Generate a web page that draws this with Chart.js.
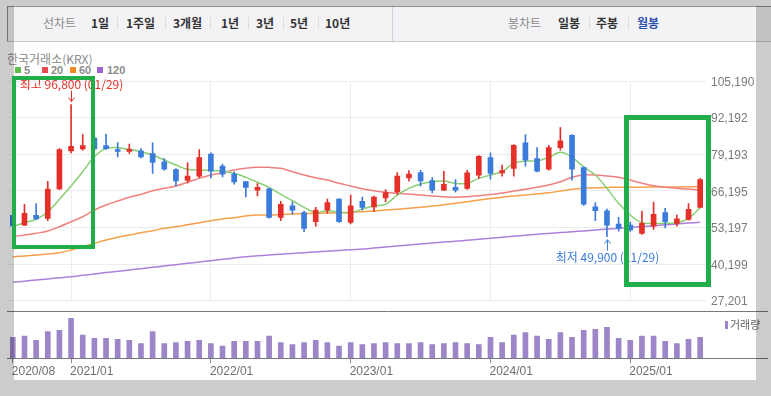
<!DOCTYPE html>
<html>
<head>
<meta charset="utf-8">
<script src="https://cdn.jsdelivr.net/npm/chart.js@4.4.1/dist/chart.umd.min.js"></script>
<style>
html,body{margin:0;padding:0;background:#fff;width:771px;height:396px;overflow:hidden;font-family:'Noto Sans CJK KR','Liberation Sans',sans-serif;}
#wrap{position:relative;width:771px;height:396px;overflow:hidden;}
canvas{position:absolute;left:0;top:0;}
.abs{position:absolute;}
.t{position:absolute;top:15px;height:16px;line-height:16px;font-size:12px;font-weight:bold;color:#333;white-space:nowrap;}
.g{color:#8a8a8a;font-weight:normal;}
.sep{position:absolute;top:17px;width:1px;height:12px;background:#dcdcde;}
.lg{position:absolute;top:64px;height:12px;line-height:12px;font-size:11px;font-weight:bold;color:#8c8c8c;font-family:'Liberation Sans',sans-serif;}
.sq{position:absolute;top:67px;width:6px;height:6px;}
.ov{position:absolute;background:rgba(0,0,0,0.2);}
.box{position:absolute;border-style:solid;border-color:#22ad4b;box-sizing:border-box;}
</style>
</head>
<body>
<div id="wrap">
  <div class="abs" style="left:7px;top:6px;width:780px;height:34px;background:#f3f3f6;border-top:1px solid #8f8f8f;border-left:1px solid #8f8f8f;border-bottom:1px solid #c9c9cc;"></div>
  <div class="abs" style="left:392px;top:7px;width:1px;height:34px;background:#cfcfd3;"></div>
  <span class="t g" style="left:43px">선차트</span>
  <span class="t" style="left:91px">1일</span>
  <div class="sep" style="left:117px"></div>
  <span class="t" style="left:126px">1주일</span>
  <div class="sep" style="left:165px"></div>
  <span class="t" style="left:173px">3개월</span>
  <div class="sep" style="left:210px"></div>
  <span class="t" style="left:221px">1년</span>
  <div class="sep" style="left:248px"></div>
  <span class="t" style="left:256px">3년</span>
  <div class="sep" style="left:283px"></div>
  <span class="t" style="left:290px">5년</span>
  <div class="sep" style="left:318px"></div>
  <span class="t" style="left:325px">10년</span>
  <span class="t g" style="left:508px">봉차트</span>
  <span class="t" style="left:558px">일봉</span>
  <div class="sep" style="left:589px"></div>
  <span class="t" style="left:596px">주봉</span>
  <div class="sep" style="left:628px"></div>
  <span class="t" style="left:637px;color:#2f52b0">월봉</span>

  <div class="abs" style="left:7px;top:52px;height:14px;line-height:14px;font-size:12px;color:#8a8a8a;white-space:nowrap;">한국거래소(KRX)</div>
  <div class="sq" style="left:15px;background:#5cbf48"></div><span class="lg" style="left:24px">5</span>
  <div class="sq" style="left:42px;background:#e84c4c"></div><span class="lg" style="left:51px">20</span>
  <div class="sq" style="left:70px;background:#f28a22"></div><span class="lg" style="left:79px">60</span>
  <div class="sq" style="left:97px;background:#a064d2"></div><span class="lg" style="left:107px">120</span>

  <canvas id="price" width="771" height="396" style="width:771px;height:396px"></canvas>
  <canvas id="vol" width="771" height="396" style="width:771px;height:396px"></canvas>

  <div class="ov" style="left:0;top:0;width:771px;height:6px"></div>
  <div class="ov" style="left:0;top:6px;width:14px;height:390px"></div>
  <div class="ov" style="left:756px;top:6px;width:15px;height:390px"></div>
  <div class="ov" style="left:14px;top:380px;width:742px;height:16px"></div>

  <div class="box" style="left:12px;top:76px;width:83px;height:173px;border-width:4px"></div>
  <div class="box" style="left:624px;top:115px;width:87px;height:172px;border-width:5px"></div>
</div>
<script>
// ---- categories (monthly) ----
const months = [];
for (let y = 2020, m = 8; months.length < 60; m++) {
  if (m > 12) { m = 1; y++; }
  months.push(y + '/' + String(m).padStart(2, '0'));
}
const xTickLabels = ['2020/08', '2021/01', '2022/01', '2023/01', '2024/01', '2025/01'];
const priceTicks = [27201, 40199, 53197, 66195, 79193, 92192, 105190];

// ---- OHLC ----
const open = [57500,54000,57450,56400,66900,80350,81050,84950,82250,80850,
  80150,80350,79450,76450,73750,69850,71400,79200,74950,72100,
  69500,66400,66900,56750,60850,58500,55200,59350,63250,55000,
  62500,60500,63700,65800,70800,72700,69850,66400,67400,67050,
  71750,78000,72550,74100,83200,77650,73850,81550,85900,74450,
  60500,59100,54400,54000,51100,53650,58500,54600,56050,60300];
const high = [58500,61350,61700,69600,81200,96800,86150,85500,86250,83350,
  82750,81200,83200,77650,74100,76100,80850,79650,75650,72900,
  69600,68800,67100,62500,62150,59000,60300,63250,63400,64650,
  63950,64300,66650,72700,73400,73500,70900,73150,70200,73500,
  78700,79650,75300,82600,86150,81550,82350,88650,86200,74700,
  62050,59700,56750,55100,59000,62150,59950,57550,61700,70500];
const low = [53000,53850,56050,55550,66600,79650,80600,80600,80900,78250,
  79450,77850,72350,73500,67950,69000,70900,70800,71150,68550,
  64050,64400,56500,55550,57900,51650,53650,58150,55000,54400,
  59350,58750,62300,64900,69600,67850,65450,66200,65700,66650,
  70550,70300,71400,71400,74950,72900,73500,80600,69950,61000,
  55550,49900,51900,51800,50700,52500,53050,53650,55800,60100];
const close = [53700,58150,56250,66800,80850,82000,82250,81050,81200,80150,
  80950,78250,76250,73850,69700,71400,78000,73150,72100,69350,
  67400,67400,56750,61350,59350,52850,59350,62050,55200,60850,
  60300,63950,65600,71400,72100,69700,66400,68450,66400,72550,
  78450,72350,73400,82350,77050,73150,81550,83900,73850,61450,
  59100,54000,52850,52300,54600,57800,55200,56250,59600,70200];

// ---- moving averages ----
const ma5 = [53510,54860,56070,58770,63170,67890,72970,78290,81270,81490,
  80920,80070,78890,77120,75340,73820,73570,73460,73210,72400,
  70980,69240,67430,64940,62670,60330,58410,59120,58550,58410,
  59720,60790,61390,64690,67070,68600,69420,69660,68850,68850,
  70620,71790,72970,75950,76760,76760,78080,79850,78080,74740,
  71790,67070,61750,57590,54860,54650,54650,54860,56420,60190];
const ma20 = [49890,50490,51100,51910,53440,55220,56990,59370,61140,62560,
  63880,64940,66220,67070,67890,69200,70620,71790,72610,73570,
  74170,74530,74530,74170,72970,71790,70840,70020,68850,67890,
  66930,66220,65650,65300,65050,64690,64340,64090,63880,64090,
  64450,64870,65400,66110,66720,67430,68240,69420,70980,71790,
  71790,71440,70980,70020,68850,68000,67430,67070,66820,66470];
const ma60 = [42790,43040,43390,43750,44210,45170,46340,47550,48720,49680,
  50490,51310,52020,52870,53440,54150,54860,55570,56170,56640,
  57240,57590,57590,57770,57950,58060,58200,58300,58410,58550,
  58770,59010,59370,59650,59970,60360,60790,61250,61750,62320,
  62920,63420,63880,64340,64690,65120,65510,66110,66720,67070,
  67290,67390,67430,67460,67500,67530,67530,67570,67610,67640];
const ma120 = [33700,34090,34520,34910,35300,35690,36190,36650,37150,37610,
  38070,38530,39030,39490,39950,40450,40910,41370,41870,42330,
  42790,43110,43390,43680,43960,44210,44460,44740,44990,45280,
  45520,45880,46230,46590,46940,47300,47650,47970,48290,48650,
  48970,49320,49680,50030,50390,50740,51060,51350,51670,51950,
  52270,52590,52870,53190,53480,53800,54120,54400,54720,55000];

// ---- volume ----
const volume = [420,446,360,532,560,800,466,400,400,380,
  360,292,532,292,312,340,360,292,246,340,
  340,340,446,312,272,312,360,312,246,312,
  272,292,312,292,292,312,272,292,312,292,
  272,420,312,466,512,446,380,512,420,560,
  580,620,400,360,446,446,340,292,380,420];

const hiDate = '01/29', loDate = '11/29';

const RED = '#e5302a', BLUE = '#3b7bdc', VOLC = '#9c85c9';
const tickIdx = xTickLabels.map(l => months.indexOf(l));
const bodies = open.map((o, i) => [o, close[i]]);
const wicks = high.map((h, i) => [low[i], h]);
const candleColor = ctx => close[ctx.dataIndex] >= open[ctx.dataIndex] ? RED : BLUE;
const hiVal = Math.max(...high), hiIdx = high.indexOf(hiVal);
const loVal = Math.min(...low), loIdx = low.indexOf(loVal);

const hiLoPlugin = {
  id: 'hiLo',
  afterDatasetsDraw(chart) {
    const { ctx, scales: { x, y } } = chart;
    ctx.save();
    ctx.lineWidth = 1;
    ctx.font = '12px "Noto Sans CJK KR", sans-serif';
    ctx.textAlign = 'center';
    ctx.textBaseline = 'middle';
    const hx = Math.round(x.getPixelForValue(hiIdx)) + 0.5, hy = y.getPixelForValue(hiVal);
    ctx.strokeStyle = RED; ctx.fillStyle = RED;
    ctx.beginPath();
    ctx.moveTo(hx, hy - 14); ctx.lineTo(hx, hy - 3);
    ctx.moveTo(hx - 3, hy - 7); ctx.lineTo(hx, hy - 3); ctx.lineTo(hx + 3, hy - 7);
    ctx.stroke();
    ctx.fillText('최고 ' + hiVal.toLocaleString('en-US') + ' (' + hiDate + ')', hx, hy - 20);
    const lx = Math.round(x.getPixelForValue(loIdx)) + 0.5, ly = y.getPixelForValue(loVal);
    ctx.strokeStyle = BLUE; ctx.fillStyle = BLUE;
    ctx.beginPath();
    ctx.moveTo(lx, ly + 14); ctx.lineTo(lx, ly + 3);
    ctx.moveTo(lx - 3, ly + 7); ctx.lineTo(lx, ly + 3); ctx.lineTo(lx + 3, ly + 7);
    ctx.stroke();
    ctx.fillText('최저 ' + loVal.toLocaleString('en-US') + ' (' + loDate + ')', lx, ly + 20.5);
    ctx.restore();
  }
};

const maLine = (label, data, color) => ({
  type: 'line', label, data, borderColor: color, borderWidth: 1.5,
  pointRadius: 0, tension: 0.35, fill: false
});

new Chart(document.getElementById('price'), {
  type: 'bar',
  data: {
    labels: months,
    datasets: [
      { label: 'body', data: bodies, backgroundColor: candleColor, barThickness: 5, grouped: false, borderWidth: 0 },
      { label: 'wick', data: wicks, backgroundColor: candleColor, barThickness: 1, grouped: false, borderWidth: 0 },
      maLine('5', ma5, '#86cf72'),
      maLine('20', ma20, '#ef8080'),
      maLine('60', ma60, '#f5a04a'),
      maLine('120', ma120, '#ad80da')
    ]
  },
  options: {
    responsive: false, animation: false, devicePixelRatio: 1,
    layout: { padding: { left: 7, top: 81, right: 0, bottom: 95.4 } },
    plugins: { legend: { display: false }, tooltip: { enabled: false } },
    scales: {
      x: {
        type: 'category', offset: true,
        afterBuildTicks: s => { s.ticks = tickIdx.filter(i => i > 0).map(i => ({ value: i })); },
        afterFit: s => { s.height = 0; },
        grid: { color: '#ececec', drawTicks: false, offset: false },
        border: { display: false },
        ticks: { display: false }
      },
      y: {
        position: 'right', min: priceTicks[0], max: priceTicks[priceTicks.length - 1],
        afterBuildTicks: s => { s.ticks = priceTicks.map(v => ({ value: v })); },
        afterFit: s => { s.width = 65; },
        grid: { color: '#ececec', drawTicks: false },
        border: { display: false },
        ticks: {
          padding: 5, labelOffset: 1.5, color: '#7a7a7a',
          font: { family: 'Liberation Sans', size: 12 },
          callback: v => Number(v).toLocaleString('en-US')
        }
      }
    }
  },
  plugins: [hiLoPlugin]
});

const volFrame = {
  id: 'volFrame',
  afterDraw(chart) {
    const { ctx, chartArea: a } = chart;
    ctx.save();
    ctx.strokeStyle = '#77777d';
    ctx.lineWidth = 1;
    ctx.beginPath();
    const t = Math.round(a.top) + 0.5, b = Math.round(a.bottom) + 0.5;
    ctx.moveTo(a.left, t); ctx.lineTo(768, t);
    ctx.moveTo(a.left, b); ctx.lineTo(768, b);
    ctx.stroke();
    ctx.fillStyle = VOLC;
    ctx.fillRect(a.right + 19, a.top + 10, 3, 8);
    ctx.fillStyle = '#666';
    ctx.font = '11px "Noto Sans CJK KR", sans-serif';
    ctx.textBaseline = 'middle';
    ctx.textAlign = 'left';
    ctx.fillText('거래량', a.right + 24, a.top + 14);
    ctx.restore();
  }
};

new Chart(document.getElementById('vol'), {
  type: 'bar',
  data: {
    labels: months,
    datasets: [{ label: '거래량', data: volume, backgroundColor: VOLC, barThickness: 5, borderWidth: 0 }]
  },
  options: {
    responsive: false, animation: false, devicePixelRatio: 1,
    layout: { padding: { left: 7, top: 311, right: 65, bottom: 15.7 } },
    plugins: { legend: { display: false }, tooltip: { enabled: false } },
    scales: {
      x: {
        type: 'category', offset: true,
        afterBuildTicks: s => { s.ticks = tickIdx.map(i => ({ value: i })); },
        afterFit: s => { s.height = 22; },
        grid: { drawOnChartArea: false, drawTicks: true, tickLength: 5, tickColor: '#8a8a8a', offset: false },
        border: { display: false },
        ticks: {
          autoSkip: false, maxRotation: 0, align: 'start', padding: 1, labelOffset: -1,
          color: '#6e6e6e', font: { family: 'Liberation Sans', size: 12 }
        }
      },
      y: { display: false, min: 0, max: 946 }
    }
  },
  plugins: [volFrame]
});
</script>
</body>
</html>
